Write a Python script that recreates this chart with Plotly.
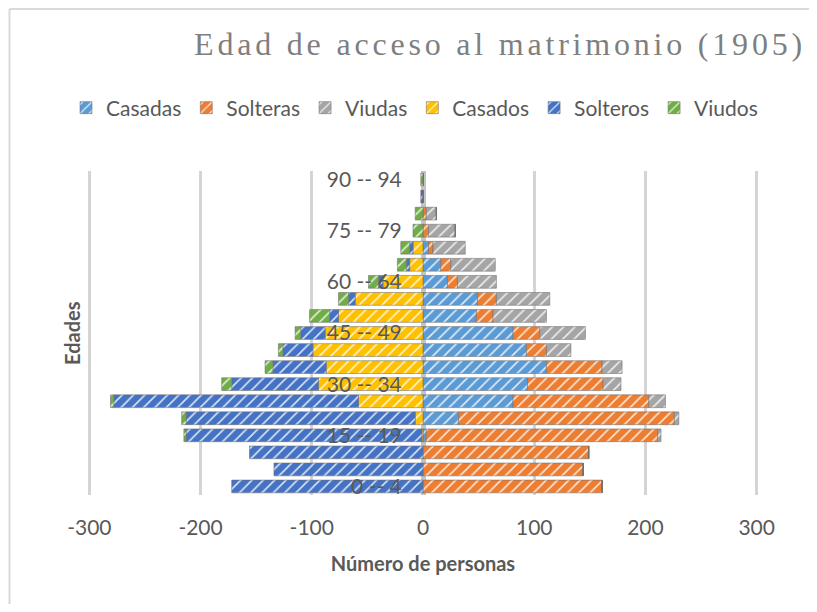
import plotly.graph_objects as go

edades = ["0 -- 4", "5 -- 9", "10 -- 14", "15 -- 19", "20 -- 24", "25 -- 29",
          "30 -- 34", "35 -- 39", "40 -- 44", "45 -- 49", "50 -- 54", "55 -- 59",
          "60 -- 64", "65 -- 69", "70 -- 74", "75 -- 79", "80 -- 84", "85 -- 89",
          "90 -- 94"]
edades_ticks = ["0 -- 4", "15 -- 19", "30 -- 34", "45 -- 49", "60 -- 64", "75 -- 79", "90 -- 94"]

# Mujeres (lado positivo)
casadas  = [0, 0, 0, 3, 32, 81, 94, 111, 93, 81, 48, 49, 22, 16, 5, 0, 0, 0, 0]
solteras = [161, 144, 149, 208, 194, 122, 68, 50, 18, 24, 15, 17, 9, 9, 4, 5, 3, 0, 0]
viudas   = [0, 0, 0, 3, 4, 15, 16, 18, 22, 41, 48, 48, 35, 40, 29, 24, 9, 0, 0]
# Hombres (lado negativo)
casados  = [0, 0, 0, 1, 7, 58, 94, 87, 99, 88, 76, 61, 36, 12, 9, 0, 0, 0, 0]
solteros = [172, 134, 156, 212, 206, 220, 78, 48, 27, 22, 8, 6, 4, 3, 3, 0, 0, 2, 0]
viudos   = [0, 0, 0, 2, 4, 3, 9, 7, 4, 5, 18, 9, 9, 8, 8, 9, 7, 0, 2]

x_ticks = [-300, -200, -100, 0, 100, 200, 300]
x_ticktext = ["-300", "-200", "-100", "0", "100", "200", "300"]

series = [
    ("Casadas", casadas, 1, "#5B9BD5"),
    ("Solteras", solteras, 1, "#ED7D31"),
    ("Viudas", viudas, 1, "#A5A5A5"),
    ("Casados", casados, -1, "#FFC000"),
    ("Solteros", solteros, -1, "#4472C4"),
    ("Viudos", viudos, -1, "#70AD47"),
]

FONT = "Lato, Liberation Sans, sans-serif"
TXT = "#595959"

fig = go.Figure()
for name, vals, sign, color in series:
    fig.add_trace(go.Bar(
        y=edades, x=[sign * v for v in vals], name=name, orientation="h",
        marker=dict(color=color,
                    line=dict(color="rgba(110,110,110,0.55)", width=1),
                    pattern=dict(shape="/", fgcolor="white", fgopacity=0.8,
                                 size=8, solidity=0.2)),
    ))

# page body has an 8px margin, so the figure is drawn 8px in from the window edge
W, H = 801, 596
L, R, T, B = 78, 49, 163, 109
PW, PH = W - L - R, H - T - B

def px_x(p):
    return (p - L) / PW

def px_y(p):
    return (H - B - p) / PH

fig.update_layout(
    width=W, height=H,
    barmode="relative", bargap=0.25,
    paper_bgcolor="white", plot_bgcolor="white",
    margin=dict(l=L, r=R, t=T, b=B, autoexpand=False),
    font=dict(family=FONT, color=TXT, size=20),
    title=dict(
        text='<span style="letter-spacing:3.8px">Edad de acceso al matrimonio (1905)</span>',
        font=dict(family="Liberation Serif, Times New Roman, serif", size=32, color="#7f7f7f"),
        x=492 / W, xref="container", xanchor="center",
        y=1 - 36 / H, yref="container", yanchor="middle",
    ),
    legend=dict(
        orientation="h", xref="paper", yref="paper",
        x=px_x(58), xanchor="left", y=px_y(100), yanchor="middle",
        font=dict(family=FONT, size=21, color=TXT),
        itemwidth=30, traceorder="normal",
    ),
    xaxis=dict(
        range=[-303, 303], tickvals=x_ticks, ticktext=x_ticktext,
        showgrid=True, gridcolor="#d4d4d4", gridwidth=3,
        zeroline=True, zerolinecolor="#c4c4c4", zerolinewidth=5,
        showline=False, ticks="", ticklabelstandoff=18,
        tickfont=dict(family=FONT, size=21, color=TXT),
        title=dict(text="<b>Número de personas</b>", standoff=18,
                   font=dict(family=FONT, size=20, color=TXT)),
        fixedrange=True,
    ),
    yaxis=dict(
        type="category", categoryorder="array", categoryarray=edades,
        tickvals=edades_ticks, ticktext=edades_ticks,
        anchor="free", position=0.5, showgrid=False, showline=False,
        ticks="outside", ticklen=17, tickcolor="rgba(0,0,0,0)",
        tickfont=dict(family=FONT, size=21, color=TXT),
        range=[-0.5, 18.5], fixedrange=True,
    ),
    annotations=[dict(
        text="<b>Edades</b>", textangle=-90, xref="paper", yref="paper",
        x=px_x(64), y=0.5, xanchor="center", yanchor="middle", showarrow=False,
        font=dict(family=FONT, size=20, color=TXT),
    )],
    shapes=[
        dict(type="line", xref="paper", yref="paper", layer="below",
             x0=px_x(1.5), x1=px_x(W), y0=px_y(1), y1=px_y(1),
             line=dict(color="#d9d9d9", width=2)),
        dict(type="line", xref="paper", yref="paper", layer="below",
             x0=px_x(1.5), x1=px_x(1.5), y0=px_y(1), y1=px_y(H),
             line=dict(color="#d9d9d9", width=2)),
    ],
)

fig.write_html("out.html")
